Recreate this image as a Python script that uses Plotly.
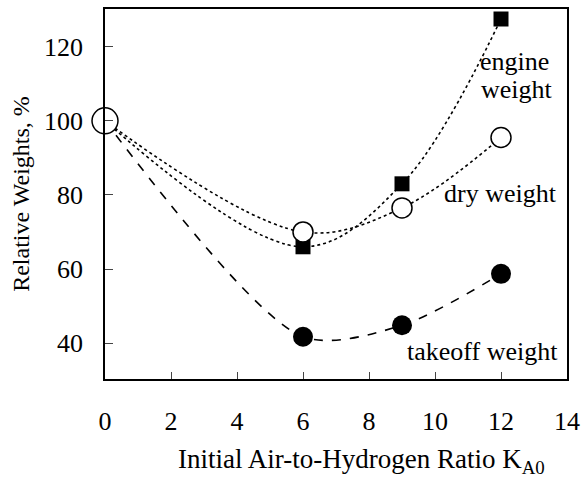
import plotly.graph_objects as go

# ---- data ----
ratio_k = [6, 9, 12]
engine_weight = [66, 83, 127.5]
dry_weight = [70, 76.5, 95.5]
takeoff_weight = [41.7, 44.8, 58.7]
base_k = 0
base_weight = 100
x_ticks = [0, 2, 4, 6, 8, 10, 12, 14]
y_ticks = [40, 60, 80, 100, 120]

FONT = "Liberation Serif, Times New Roman, serif"
FS = 26

fig = go.Figure()

def curve(y, dash, smooth):
    fig.add_trace(go.Scatter(
        x=[base_k] + ratio_k, y=[base_weight] + y, mode="lines",
        line=dict(color="black", width=1.6, dash=dash, shape="spline", smoothing=smooth),
        showlegend=False, hoverinfo="skip"))

curve(engine_weight, "dot", 1.0)
curve(dry_weight, "dot", 1.0)
curve(takeoff_weight, "dash", 0.8)

fig.add_trace(go.Scatter(x=ratio_k, y=engine_weight, mode="markers",
    marker=dict(symbol="square", size=15, color="black"), showlegend=False))
fig.add_trace(go.Scatter(x=ratio_k, y=dry_weight, mode="markers",
    marker=dict(symbol="circle", size=20, color="white", line=dict(color="black", width=1.5)),
    showlegend=False))
fig.add_trace(go.Scatter(x=ratio_k, y=takeoff_weight, mode="markers",
    marker=dict(symbol="circle", size=20, color="black"), showlegend=False))
fig.add_trace(go.Scatter(x=[base_k], y=[base_weight], mode="markers",
    marker=dict(symbol="circle", size=26, color="white", line=dict(color="black", width=1.5)),
    showlegend=False, cliponaxis=False))

txt = dict(size=FS, color="black", family=FONT)
fig.add_annotation(x=12.42, y=116.0, text="engine", showarrow=False, font=txt)
fig.add_annotation(x=12.48, y=108.6, text="weight", showarrow=False, font=txt)
fig.add_annotation(x=11.97, y=80.3, text="dry weight", showarrow=False, font=txt)
fig.add_annotation(x=11.43, y=37.6, text="takeoff weight", showarrow=False, font=txt)
# x-axis title
fig.add_annotation(xref="paper", yref="paper", x=0.555, y=-0.222, yanchor="middle",
                   text="Initial Air-to-Hydrogen Ratio K<sub>A0</sub>", showarrow=False,
                   font=dict(size=27, color="black", family=FONT))

fig.update_layout(
    width=587, height=477,
    margin=dict(l=105, r=13, t=7, b=98),
    plot_bgcolor="white", paper_bgcolor="white",
    font=dict(family=FONT, size=FS, color="black"),
    xaxis=dict(range=[0, 14], tickvals=x_ticks, ticks="inside", ticklen=7, tickwidth=1.2,
               showline=True, linecolor="black", linewidth=1.5, mirror=True, showgrid=False,
               zeroline=False, ticklabelstandoff=18),
    yaxis=dict(range=[30.3, 130.2], tickvals=y_ticks, ticks="inside", ticklen=8, tickwidth=1.2,
               showline=True, linecolor="black", linewidth=1.5, mirror=True, showgrid=False,
               zeroline=False, ticklabelstandoff=15,
               title=dict(text="Relative Weights, %", standoff=8, font=dict(size=24))),
)

fig.write_html("out.html", config={"displayModeBar": False},
               post_script="document.body.style.margin='0';")
